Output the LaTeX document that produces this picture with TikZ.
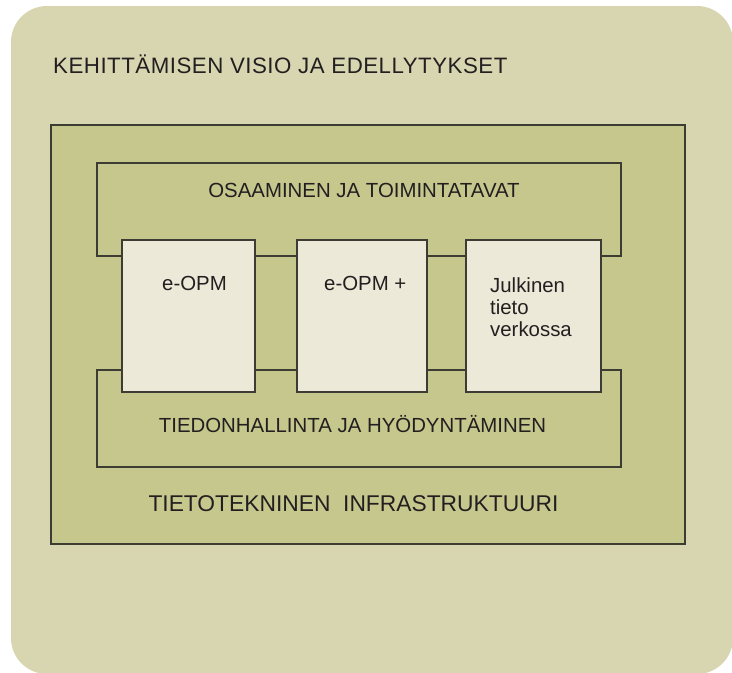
\documentclass[tikz,border=0pt]{standalone}
\usepackage{fontspec}
\setmainfont{Liberation Sans}
\newfontfamily\titlefont[LetterSpace=2.2]{Liberation Sans}
\definecolor{outerbg}{HTML}{D8D6B0}
\definecolor{innerbg}{HTML}{C5C78D}
\definecolor{boxbg}{HTML}{ECE9D8}
\definecolor{edge}{HTML}{3C3C32}
\definecolor{ink}{HTML}{231F20}
\tikzset{
  band/.style={draw=edge, line width=1.2pt},
  card/.style={draw=edge, line width=1.2pt, fill=boxbg},
  lbl/.style={inner sep=0pt, text=ink, font=\fontsize{20.4}{21.7}\selectfont},
  biglbl/.style={inner sep=0pt, text=ink, font=\fontsize{22.8}{24}\selectfont},
  titlelbl/.style={inner sep=0pt, text=ink, font=\titlefont\fontsize{22.3}{24}\selectfont},
}
\begin{document}
\begin{tikzpicture}[x=1pt,y=-1pt]
\useasboundingbox (0,0) rectangle (732,673);
% outer rounded panel
\fill[outerbg, rounded corners=36pt] (11,6) rectangle (733,674);
\node[titlelbl, anchor=base west] (title) at (53,73.5) {KEHITTÄMISEN VISIO JA EDELLYTYKSET};
% inner frame
\draw[band, fill=innerbg] (51,125) rectangle (685,544);
% bands
\draw[band] (97,163) rectangle (621,256);
\draw[band] (97,370) rectangle (621,467);
\node[lbl, anchor=base] (osaaminen) at (364,197) {OSAAMINEN JA TOIMINTATAVAT};
\node[lbl, anchor=base] (tiedon) at (352.5,432.5) {TIEDONHALLINTA JA HYÖDYNTÄMINEN};
\node[biglbl, anchor=base] (infra) at (353.5,511.5) {TIETOTEKNINEN\ \ INFRASTRUKTUURI};
% cards
\draw[card] (122,240) rectangle (255,392);
\draw[card] (297,240) rectangle (427,392);
\draw[card] (466,240) rectangle (601,392);
\node[lbl, anchor=base west] (eopm) at (162,290) {e-OPM};
\node[lbl, anchor=base west] (eopmplus) at (324,290) {e-OPM +};
\node[lbl, anchor=north west, align=left] (julkinen) at (490,278) {Julkinen\\tieto\\verkossa};
\end{tikzpicture}
\end{document}
